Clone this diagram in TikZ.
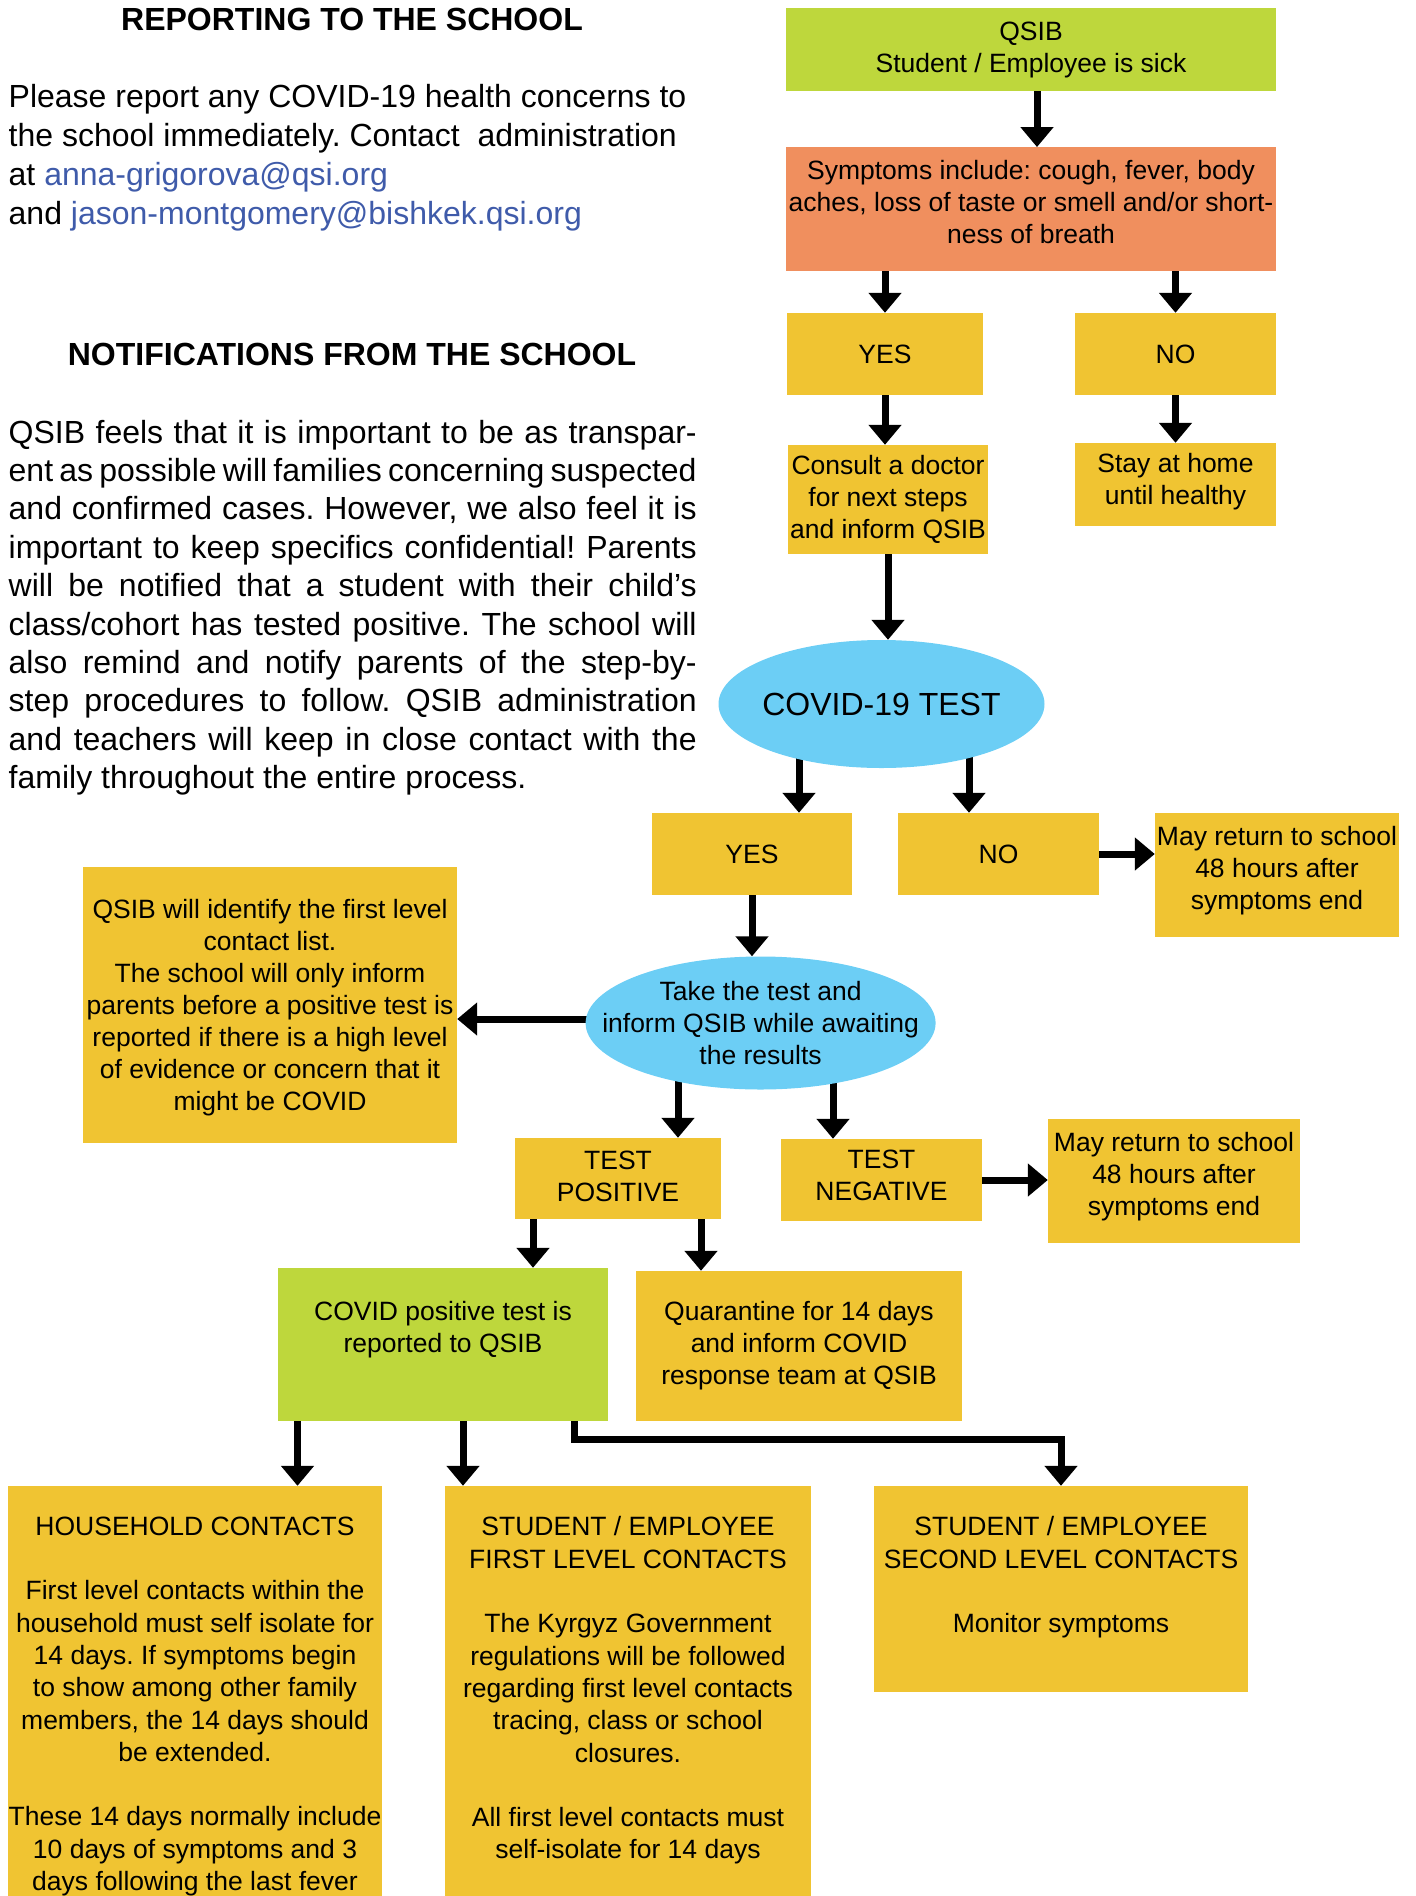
\documentclass[tikz,border=0pt]{standalone}
\usepackage{fontspec}
\setmainfont{Liberation Sans}
\usetikzlibrary{arrows.meta,shapes.geometric,calc}
\definecolor{cgreen}{HTML}{BED73C}
\definecolor{corange}{HTML}{F08F5E}
\definecolor{cyellow}{HTML}{F0C432}
\definecolor{cblue}{HTML}{6CCEF5}
\definecolor{clink}{HTML}{3F5BAA}
\pgfdeclarelayer{bg}
\pgfsetlayers{bg,main}
\tikzset{
  box/.style={rectangle, inner sep=0pt, align=center, font=\fontsize{26.5}{32}\selectfont},
  ell/.style={ellipse, inner sep=0pt, fill=cblue},
  arr/.style={line width=7pt, line join=miter, -{Triangle[width=32pt,length=20pt]}},
  txt/.style={inner sep=0pt, align=center, font=\fontsize{26.5}{32}\selectfont},
  btxt/.style={inner sep=0pt, align=center, anchor=north, font=\fontsize{26.5}{32.3}\selectfont},
  head/.style={inner sep=0pt, font=\bfseries\fontsize{32}{38.7}\selectfont},
  para/.style={inner sep=0pt, align=left, anchor=base west},
}
\newcommand{\jl}[1]{\makebox[688pt][s]{#1}}
\frenchspacing
\begin{document}
\frenchspacing
\begin{tikzpicture}[x=1pt,y=-1pt]
\useasboundingbox (0,0) rectangle (1416,1896);

% left texts (base anchor = baseline of the last line)
\node[head] (h1) at (352,19.4) {REPORTING TO THE SCHOOL};
\node[para, font=\fontsize{32}{38.7}\selectfont] (p1) at (8.5,224) {Please report any COVID-19 health concerns to\\the school immediately. Contact\ \ administration\\at \textcolor{clink}{anna-grigorova@qsi.org}\\and \textcolor{clink}{jason-montgomery@bishkek.qsi.org}};
\node[head] (h2) at (352,354) {NOTIFICATIONS FROM THE SCHOOL};
\node[para, font=\fontsize{32}{38.4}\selectfont] (p2) at (8.5,788.6) {\jl{QSIB feels that it is important to be as transpar-}\\
\jl{ent as possible will families concerning suspected}\\
\jl{and confirmed cases. However, we also feel it is}\\
\jl{important to keep specifics confidential! Parents}\\
\jl{will be notified that a student with their child’s}\\
\jl{class/cohort has tested positive. The school will}\\
\jl{also remind and notify parents of the step-by-}\\
\jl{step procedures to follow. QSIB administration}\\
\jl{and teachers will keep in close contact with the}\\
family throughout the entire process.};

% flowchart boxes
\node[box, fill=cgreen, minimum width=490pt, minimum height=83pt] (qsib) at (1031,49.5) {QSIB\\Student / Employee is sick};
\node[box, fill=corange, minimum width=490pt, minimum height=123.5pt] (sym) at (1031,209) {};
\node[txt] (symtxt) at (1031,201.7) {Symptoms include: cough, fever, body\\aches, loss of taste or smell and/or short-\\ness of breath};
\node[box, fill=cyellow, minimum width=196pt, minimum height=82pt] (yes1) at (885,354) {YES};
\node[box, fill=cyellow, minimum width=201pt, minimum height=82pt] (no1) at (1175.5,354) {NO};
\node[box, fill=cyellow, minimum width=200pt, minimum height=109pt] (consult) at (888,499.5) {Consult a doctor\\for next steps\\and inform QSIB};
\node[box, fill=cyellow, minimum width=201pt, minimum height=83pt] (stay) at (1175.5,484.5) {};
\node[txt] (staytxt) at (1175.5,482) {Stay at home\\until healthy};
\node[ell, minimum width=326pt, minimum height=128pt] (test) at (881.5,704) {};
\node[txt, font=\fontsize{32}{38}\selectfont] (testtxt) at (881.5,704) {COVID-19 TEST};
\node[box, fill=cyellow, minimum width=200pt, minimum height=82pt] (yes2) at (752,854) {YES};
\node[box, fill=cyellow, minimum width=201pt, minimum height=82pt] (no2) at (998.5,854) {NO};
\node[box, fill=cyellow, minimum width=244pt, minimum height=124pt] (may1) at (1277,875) {};
\node[txt] (may1txt) at (1277,871) {May return to school\\48 hours after\\symptoms end};
\node[ell, minimum width=350pt, minimum height=133pt] (take) at (760.6,1023) {};
\node[txt] (taketxt) at (760.6,1023) {Take the test and\\inform QSIB while awaiting\\the results};
\node[box, fill=cyellow, minimum width=374pt, minimum height=276pt] (ident) at (270,1005) {};
\node[txt] (identtxt) at (270,1007.5) {QSIB will identify the first level\\contact list.\\The school will only inform\\parents before a positive test is\\reported if there is a high level\\of evidence or concern that it\\might be COVID};
\node[box, fill=cyellow, minimum width=206pt, minimum height=81pt] (tpos) at (618,1178.5) {};
\node[txt] (tpostxt) at (618,1176) {TEST\\POSITIVE};
\node[box, fill=cyellow, minimum width=201pt, minimum height=82pt] (tneg) at (881.5,1180) {};
\node[txt] (tnegtxt) at (881.5,1175) {TEST\\NEGATIVE};
\node[box, fill=cyellow, minimum width=252pt, minimum height=124.5pt] (may2) at (1174,1181) {};
\node[txt] (may2txt) at (1174,1177) {May return to school\\48 hours after\\symptoms end};
\node[box, fill=cgreen, minimum width=330pt, minimum height=153pt] (cpos) at (443,1344.5) {};
\node[txt] (cpostxt) at (443,1329.5) {COVID positive test is\\reported to QSIB};
\node[box, fill=cyellow, minimum width=326.5pt, minimum height=150pt] (quar) at (799,1346) {Quarantine for 14 days\\and inform COVID\\response team at QSIB};
\node[box, fill=cyellow, minimum width=373.5pt, minimum height=424pt] (hh) at (195,1698) {};
\node[box, fill=cyellow, minimum width=366pt, minimum height=424pt] (first) at (628,1698) {};
\node[box, fill=cyellow, minimum width=374pt, minimum height=206pt] (second) at (1061,1589) {};
\node[btxt] (hhtxt) at (195,1516.5) {HOUSEHOLD CONTACTS\\[32.3pt]First level contacts within the\\household must self isolate for\\14 days. If symptoms begin\\to show among other family\\members, the 14 days should\\be extended.\\[32.3pt]These 14 days normally include\\10 days of symptoms and 3\\days following the last fever};
\node[btxt] (firsttxt) at (628,1516.5) {STUDENT / EMPLOYEE\\FIRST LEVEL CONTACTS\\[32.3pt]The Kyrgyz Government\\regulations will be followed\\regarding first level contacts\\tracing, class or school\\closures.\\[32.3pt]All first level contacts must\\self-isolate for 14 days};
\node[btxt] (secondtxt) at (1061,1516.5) {STUDENT / EMPLOYEE\\SECOND LEVEL CONTACTS\\[32.3pt]Monitor symptoms};

% connectors
\begin{pgfonlayer}{bg}
\draw[arr] ([xshift=6pt]qsib.south) -- ([xshift=6pt]qsib.south |- sym.north);
\draw[arr] (sym.south -| yes1.north) -- (yes1.north);
\draw[arr] (sym.south -| no1.north) -- (no1.north);
\draw[arr] (yes1.south) -- (yes1.south |- consult.north);
\draw[arr] (no1.south) -- (no1.south |- stay.north);
\draw[arr] (consult.south) -- (consult.south |- test.north);
\draw[arr] ([xshift=-82.5pt]test.center) -- ([xshift=-82.5pt]test.center |- yes2.north);
\draw[arr] ([xshift=87.5pt]test.center) -- ([xshift=87.5pt]test.center |- no2.north);
\draw[arr] (no2.east) -- (no2.east -| may1.west);
\draw[arr] (yes2.south) -- (yes2.south |- take.north);
\draw[arr] ([yshift=4pt]take.center) -- ([yshift=4pt]take.center -| ident.east);
\draw[arr] ([xshift=-82.6pt]take.center) -- ([xshift=-82.6pt]take.center |- tpos.north);
\draw[arr] ([xshift=72.4pt]take.center) -- ([xshift=72.4pt]take.center |- tneg.north);
\draw[arr] (tneg.east) -- (tneg.east -| may2.west);
\draw[arr] ([xshift=-85pt]tpos.south) -- ([xshift=-85pt]tpos.south |- cpos.north);
\draw[arr] ([xshift=83pt]tpos.south) -- ([xshift=83pt]tpos.south |- quar.north);
\draw[arr] ([xshift=-145.5pt]cpos.south) -- ([xshift=-145.5pt]cpos.south |- hh.north);
\draw[arr] ([xshift=20pt]cpos.south) -- ([xshift=20pt]cpos.south |- first.north);
\draw[arr] ([xshift=131pt]cpos.south) -- ++(0,18) -| (second.north);
\end{pgfonlayer}
\end{tikzpicture}
\end{document}
